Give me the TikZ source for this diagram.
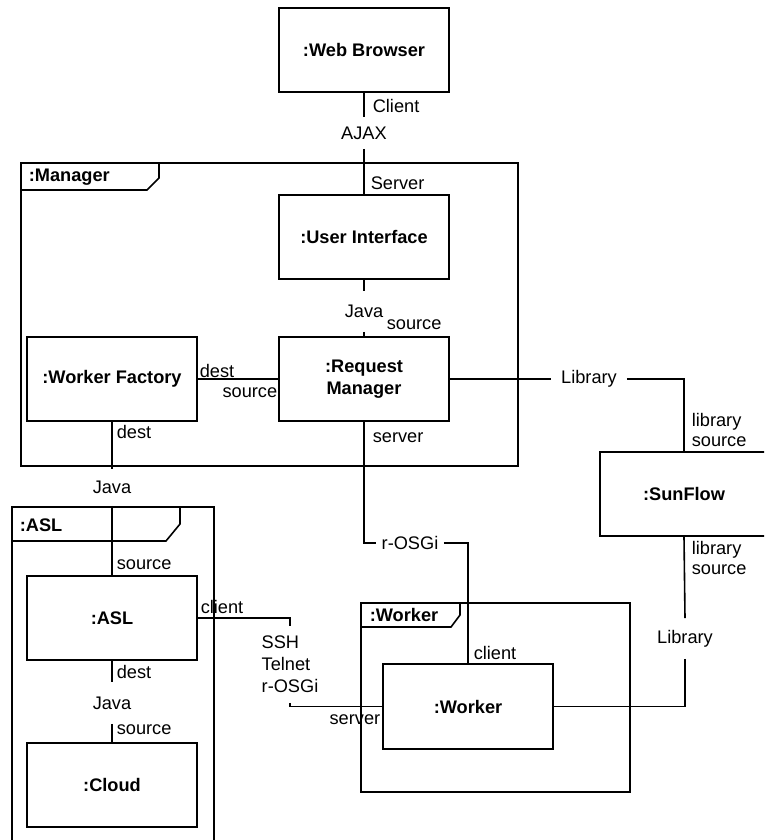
\documentclass[tikz,border=0pt]{standalone}
\usepackage{fontspec}
\setmainfont{Liberation Sans}
\begin{document}
\begin{tikzpicture}[x=1pt,y=-1pt,
  line width=1.6pt,
  comp/.style={draw, minimum width=170pt, minimum height=84pt, inner sep=0pt,
    font=\fontsize{18.2}{22}\selectfont\bfseries, align=center},
  lbl/.style={inner sep=0pt, font=\fontsize{18.2}{20}\selectfont},
  wlbl/.style={lbl, anchor=west, align=left},
  elbl/.style={lbl, anchor=east, align=right},
  ftitle/.style={inner sep=0pt, anchor=west, font=\fontsize{18.2}{20}\selectfont\bfseries}]
\useasboundingbox (0,0) rectangle (764,840);
\clip (0,0) rectangle (764,840);

% frames (composite structures)
\draw (21,163) rectangle (518,466);
\draw (21,190) -- (147,190) -- (159,178) -- (159,163);
\node[ftitle] (mgrT) at (28,177) {:Manager};

\draw (12,507) rectangle (214,850);
\draw (12,541) -- (166,541) -- (180,524) -- (180,507);
\node[ftitle] (aslT) at (19,525) {:ASL};

\draw (361,603) rectangle (630,792);
\draw (361,627) -- (451,627) -- (460,615) -- (460,603);
\node[ftitle] (wkT) at (369,615) {:Worker};

% components
\node[comp] (wb) at (364,50) {:Web Browser};
\node[comp] (ui) at (364,237) {:User Interface};
\node[comp] (rm) at (364,379) {:Request\\Manager};
\node[comp] (wf) at (112,379) {:Worker Factory};
\node[comp] (asl) at (112,618) {:ASL};
\node[comp] (cloud) at (112,785) {:Cloud};
\node[comp, minimum width=168pt] (sun) at (684,494) {:SunFlow};
\node[comp, minimum height=85pt] (wk) at (468,706.5) {:Worker};

% connector labels that interrupt their lines
\node[lbl, minimum height=30pt] (ajax) at (364,133) {AJAX};
\node[lbl, minimum height=39pt] (java1) at (364,311.5) {Java};
\node[lbl, minimum height=35pt] (java2) at (112,487.5) {Java};
\node[lbl, minimum height=40pt] (java3) at (112,703) {Java};
\node[lbl, minimum width=74pt] (lib1) at (589,379) {Library};
\node[lbl, minimum height=39pt] (lib2) at (685,638.5) {Library};
\node[lbl, minimum width=66pt] (rosgi) at (410,543) {r-OSGi};
\node[lbl, align=left, font=\fontsize{18.2}{22}\selectfont, minimum height=75pt] (prot) at (290,664.5) {SSH\\Telnet\\r-OSGi};

% connectors
\draw (wb.south) -- (ajax.north);
\draw (ajax.south) -- (ui.north);
\draw (ui.south) -- (java1.north);
\draw (java1.south) -- (rm.north);
\draw (wf.east) -- (rm.west);
\draw (rm.east) -- (lib1.west);
\draw (lib1.east) -| (sun.north);
\draw (sun.south) -- (lib2.north);
\draw (lib2.south) |- (wk.east);
\draw (rm.south) |- (rosgi.west);
\draw (rosgi.east) -| (wk.north);
\draw (wf.south) -- (java2.north);
\draw (java2.south) -- (asl.north);
\draw (asl.south) -- (java3.north);
\draw (java3.south) -- (cloud.north);
\draw (asl.east) -| (prot.north);
\draw (prot.south) |- (wk.west);

% port / role labels
\node[wlbl] (lClient) at (372,106) {Client};
\node[wlbl] (lServer) at (370,183) {Server};
\node[wlbl] (lSrc1) at (386,325) {source};
\node[wlbl] (lDest1) at (199,371) {dest};
\node[elbl] (lSrc2) at (278,393) {source};
\node[wlbl] (lServer2) at (372,438) {server};
\node[wlbl] (lDest2) at (116,432) {dest};
\node[wlbl] (lSrc3) at (116,565) {source};
\node[wlbl] (lDest3) at (116,672) {dest};
\node[wlbl] (lSrc4) at (116,730) {source};
\node[wlbl] (lClient2) at (200,607) {client};
\node[elbl] (lServer3) at (381,720) {server};
\node[wlbl] (lClient3) at (473,653) {client};
\node[wlbl] (lLibSrc1) at (691,430) {library\\source};
\node[wlbl] (lLibSrc2) at (691,558) {library\\source};
\end{tikzpicture}
\end{document}
